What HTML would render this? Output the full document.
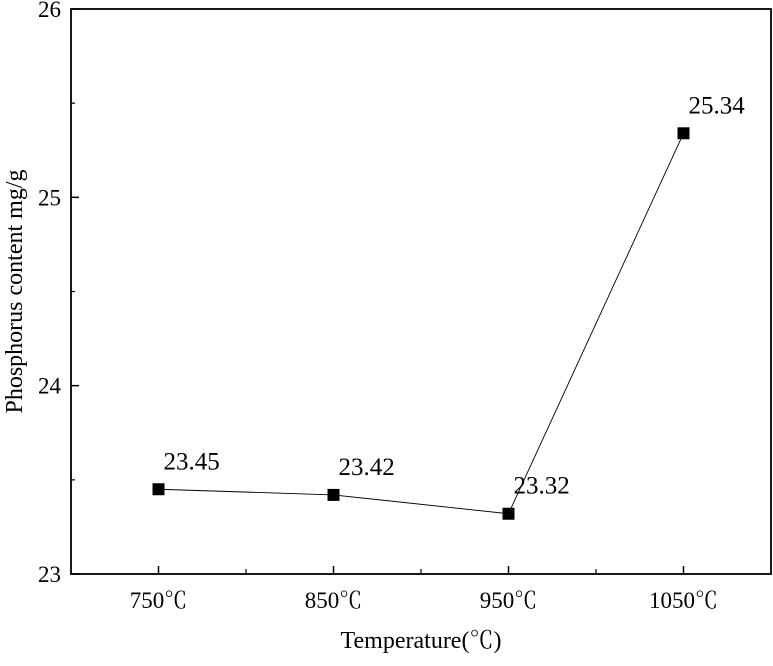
<!DOCTYPE html>
<html><head><meta charset="utf-8"><style>
body{margin:0;background:#fff}
text{font-family:"Liberation Serif","Noto Serif CJK SC",serif;fill:#000}
</style></head><body>
<svg id="chart" width="773" height="661" xmlns="http://www.w3.org/2000/svg"></svg>
<script>
const categories=["750℃","850℃","950℃","1050℃"];
const values=[23.45,23.42,23.32,25.34];
const valueLabels=["23.45","23.42","23.32","25.34"];
const yTicks=[23,24,25,26];
const L=71,R=771,T=9,B=574,yMin=23,yMax=26;
const band=(R-L)/categories.length;
const xs=i=>L+band*(i+0.5);
const ys=v=>B-(v-yMin)/(yMax-yMin)*(B-T);
const svg=document.getElementById('chart');
const NS="http://www.w3.org/2000/svg";
const FF='"Liberation Serif","Noto Serif CJK SC",serif';
function mk(tag,attrs,parent){const e=document.createElementNS(NS,tag);for(const k in attrs)e.setAttribute(k,attrs[k]);(parent||svg).appendChild(e);return e;}
const frame=mk('rect',{x:L,y:T,width:R-L,height:B-T,fill:'none',stroke:'#000','stroke-width':1.8});


yTicks.forEach(v=>{
  const t=mk('line',{x1:L,x2:L+8,y1:ys(v),y2:ys(v),stroke:'#000','stroke-width':1.5});
  
  
  const lb=mk('text',{x:L-10,y:ys(v)+8,'text-anchor':'end','font-size':23,'font-family':FF});
  lb.textContent=v;
  
  
});
for(let i=0;i<yTicks.length-1;i++){
  const m=mk('line',{x1:L,x2:L+4,y1:ys(yTicks[i]+0.5),y2:ys(yTicks[i]+0.5),stroke:'#000','stroke-width':1.2});
  
  
}
categories.forEach((c,i)=>{
  const t=mk('line',{x1:xs(i),x2:xs(i),y1:B,y2:B-8,stroke:'#000','stroke-width':1.5});
  
  
  if(i<categories.length-1){
    const m=mk('line',{x1:L+band*(i+1),x2:L+band*(i+1),y1:B,y2:B-5,stroke:'#000','stroke-width':1.2});
    
    
  }
  const lb=mk('text',{x:xs(i),y:B+34,'text-anchor':'middle','font-size':23,'font-family':FF});
  lb.textContent=c;
  
  
});
const pts=values.map((v,i)=>xs(i)+','+ys(v)).join(' ');
const line=mk('polyline',{points:pts,fill:'none',stroke:'#000','stroke-width':0.9});


values.forEach((v,i)=>{
  const p=mk('rect',{x:xs(i)-6,y:ys(v)-6,width:12,height:12,fill:'#000'});
  
  
  const lb=mk('text',{x:xs(i)+5,y:ys(v)-20,'font-size':25,'font-family':FF});
  lb.textContent=valueLabels[i];
  
  
});
const xt=mk('text',{x:(L+R)/2,y:648,'text-anchor':'middle','font-size':24,'font-family':FF});
xt.textContent="Temperature(℃)";


const yt=mk('text',{x:0,y:0,'text-anchor':'middle','font-size':24,'font-family':FF,transform:'translate(22,'+((T+B)/2)+') rotate(-90)'});
yt.textContent="Phosphorus content mg/g";


</script>
</body></html>
